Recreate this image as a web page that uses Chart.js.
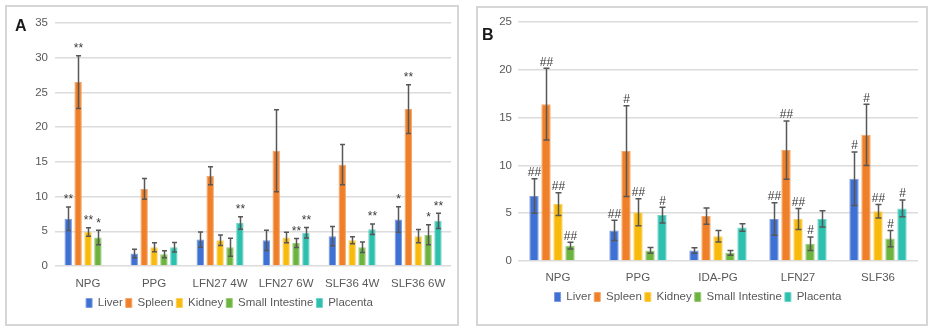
<!DOCTYPE html>
<html>
<head>
<meta charset="utf-8">
<script src="https://cdn.jsdelivr.net/npm/chart.js@4/dist/chart.umd.min.js"></script>
<style>
  html, body { margin: 0; padding: 0; background: #ffffff; }
  body { width: 936px; height: 333px; position: relative; overflow: hidden; }
  .panel { position: absolute; box-sizing: border-box; border: 2px solid #d6d6d6; background: #fff; }
  #panelA { left: 5px; top: 5px; width: 454px; height: 321px; }
  #panelB { left: 476px; top: 6px; width: 452px; height: 320px; }
  .letter { position: absolute; font-family: 'Liberation Sans', Arial, sans-serif; font-weight: bold; font-size: 16px; line-height: 16px; color: #1a1a1a; }
  canvas { position: absolute; left: 0; top: 0; }
</style>
</head>
<body>
<div class="panel" id="panelA"><canvas id="chartA" width="450" height="317"></canvas></div>
<div class="panel" id="panelB"><canvas id="chartB" width="448" height="316"></canvas></div>
<div class="letter" style="left:15px; top:18px;">A</div>
<div class="letter" style="left:482px; top:27px;">B</div>
<script>
// ---------- DATA ----------
const seriesNames = ['Liver', 'Spleen', 'Kidney', 'Small Intestine', 'Placenta'];

// Panel A
const categoriesA = ['NPG', 'PPG', 'LFN27 4W', 'LFN27 6W', 'SLF36 4W', 'SLF36 6W'];
const liverA      = [6.8, 1.8, 3.8, 3.7, 4.3, 6.7];
const liverErrA   = [1.7, 0.6, 1.1, 1.45, 1.4, 1.85];
const spleenA     = [26.5, 11.1, 13.0, 16.6, 14.6, 22.6];
const spleenErrA  = [3.8, 1.5, 1.3, 5.9, 2.9, 3.5];
const kidneyA     = [4.9, 2.7, 3.7, 4.1, 3.7, 4.3];
const kidneyErrA  = [0.6, 0.65, 0.75, 0.75, 0.5, 0.95];
const intestineA  = [4.1, 1.7, 2.7, 3.3, 2.7, 4.5];
const intestineErrA = [1.05, 0.5, 1.3, 0.65, 0.75, 1.45];
const placentaA   = [null, 2.7, 6.2, 4.8, 5.3, 6.5];
const placentaErrA = [null, 0.7, 0.9, 0.75, 0.75, 1.1];
const liverSigA     = ['**', '', '', '', '', '*'];
const spleenSigA    = ['**', '', '', '', '', '**'];
const kidneySigA    = ['**', '', '', '', '', ''];
const intestineSigA = ['*', '', '', '**', '', '*'];
const placentaSigA  = ['', '', '**', '**', '**', '**'];
const ticksA = [0, 5, 10, 15, 20, 25, 30, 35];

// Panel B
const categoriesB = ['NPG', 'PPG', 'IDA-PG', 'LFN27', 'SLF36'];
const liverB      = [6.8, 3.2, 1.1, 4.4, 8.6];
const liverErrB   = [1.8, 1.05, 0.28, 1.7, 2.8];
const spleenB     = [16.4, 11.5, 4.7, 11.6, 13.2];
const spleenErrB  = [3.75, 4.75, 0.85, 3.05, 3.2];
const kidneyB     = [5.95, 5.1, 2.6, 4.4, 5.2];
const kidneyErrB  = [1.2, 1.4, 0.6, 1.1, 0.7];
const intestineB  = [1.6, 1.1, 0.85, 1.8, 2.35];
const intestineErrB = [0.35, 0.3, 0.25, 0.7, 0.85];
const placentaB   = [null, 4.8, 3.5, 4.4, 5.5];
const placentaErrB = [null, 0.82, 0.4, 0.85, 0.88];
const liverSigB     = ['##', '##', '', '##', '#'];
const spleenSigB    = ['##', '#', '', '##', '#'];
const kidneySigB    = ['##', '##', '', '##', '##'];
const intestineSigB = ['##', '', '', '#', '#'];
const placentaSigB  = ['', '#', '', '', '#'];
const ticksB = [0, 5, 10, 15, 20, 25];

// ---------- STYLE ----------
const colors  = ['#3F70D3', '#F07F29', '#F8BA0C', '#6CB33F', '#2DC0AE'];
const borders = ['#7A9BE0', '#F5A567', '#FBD05A', '#97CB75', '#6FD5C8'];
const FONT = "'Liberation Sans', Arial, sans-serif";
const FS = 11.5;

function errPlugin(errs, sigs, capHalf, gap) {
  return {
    id: 'errbars',
    afterDatasetsDraw(chart) {
      const ctx = chart.ctx;
      const ys = chart.scales.y;
      ctx.save();
      chart.data.datasets.forEach((ds, i) => {
        const meta = chart.getDatasetMeta(i);
        meta.data.forEach((bar, j) => {
          const v = ds.data[j];
          const e = errs[i][j];
          if (v == null || e == null) return;
          const x = Math.round(bar.x) + 0.5;
          const yT = ys.getPixelForValue(v + e);
          const yB = ys.getPixelForValue(v - e);
          ctx.strokeStyle = '#575757';
          ctx.lineWidth = 1.5;
          ctx.beginPath();
          ctx.moveTo(x, yT); ctx.lineTo(x, yB);
          ctx.moveTo(x - capHalf, yT); ctx.lineTo(x + capHalf, yT);
          ctx.moveTo(x - capHalf, yB); ctx.lineTo(x + capHalf, yB);
          ctx.stroke();
          const s = sigs[i][j];
          if (s) {
            ctx.fillStyle = '#3a3a3a';
            ctx.font = "12px 'Liberation Sans', Arial, sans-serif";
            ctx.textAlign = 'center';
            ctx.textBaseline = 'bottom';
            ctx.fillText(s, x, yT - gap);
          }
        });
      });
      ctx.restore();
    }
  };
}

function makeChart(id, cats, vals, errs, sigs, ticks, cfg) {
  const datasets = seriesNames.map((name, i) => ({
    label: name,
    data: vals[i],
    backgroundColor: colors[i],
    borderColor: borders[i],
    borderWidth: 1,
    categoryPercentage: cfg.catPct,
    barPercentage: cfg.barPct
  }));
  return new Chart(document.getElementById(id), {
    type: 'bar',
    data: { labels: cats, datasets },
    options: {
      responsive: false,
      animation: false,
      layout: { padding: { left: 0, right: cfg.padRight, top: cfg.padTop, bottom: cfg.padBottom } },
      plugins: {
        tooltip: { enabled: false },
        legend: {
          position: 'bottom',
          labels: {
            boxWidth: 6, boxHeight: 9, padding: 3,
            color: '#595959',
            font: { family: FONT, size: FS }
          }
        }
      },
      scales: {
        x: {
          grid: { display: false, drawTicks: false },
          border: { display: false },
          ticks: { color: '#595959', padding: cfg.xPad, font: { family: FONT, size: FS }, maxRotation: 0 },
          afterFit: s => { s.height = cfg.xHeight; }
        },
        y: {
          min: 0, max: ticks[ticks.length - 1],
          afterBuildTicks: s => { s.ticks = ticks.map(v => ({ value: v })); },
          grid: { color: '#dcdcdc', lineWidth: 1.5, drawTicks: false },
          border: { display: false },
          ticks: { color: '#595959', padding: cfg.yPad, font: { family: FONT, size: FS } },
          afterFit: s => { s.width = cfg.yWidth; }
        }
      }
    },
    plugins: [errPlugin(errs, sigs, cfg.cap, cfg.gap)]
  });
}

makeChart('chartA', categoriesA,
  [liverA, spleenA, kidneyA, intestineA, placentaA],
  [liverErrA, spleenErrA, kidneyErrA, intestineErrA, placentaErrA],
  [liverSigA, spleenSigA, kidneySigA, intestineSigA, placentaSigA],
  ticksA,
  { catPct: 0.75, barPct: 0.75, padRight: 5, padTop: 16, padBottom: 5.25, xPad: 11.25, xHeight: 28.25, yPad: 7, yWidth: 48, cap: 2.5, gap: 1 });

makeChart('chartB', categoriesB,
  [liverB, spleenB, kidneyB, intestineB, placentaB],
  [liverErrB, spleenErrB, kidneyErrB, intestineErrB, placentaErrB],
  [liverSigB, spleenSigB, kidneySigB, intestineSigB, placentaSigB],
  ticksB,
  { catPct: 0.75, barPct: 0.78, padRight: 8, padTop: 14, padBottom: 11.25, xPad: 10.25, xHeight: 27.25, yPad: 6, yWidth: 40, cap: 3, gap: 0 });
</script>
</body>
</html>
